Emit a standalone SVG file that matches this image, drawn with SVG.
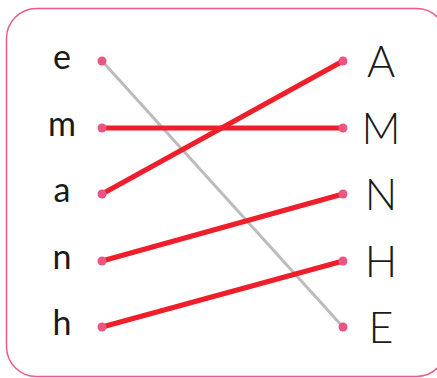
<svg xmlns="http://www.w3.org/2000/svg" width="437" height="378" viewBox="0 0 437 378">
<style>
.lo{font-family:"Lato","Liberation Sans",sans-serif;font-size:34px;font-weight:400;fill:#1a1a1a;text-anchor:middle}
.up{font-family:"Lato","Liberation Sans",sans-serif;font-size:43px;font-weight:300;fill:#1a1a1a;text-anchor:middle}
.dot{fill:#ec5482}
.red{stroke:#ee1f2b;stroke-width:5;stroke-linecap:round}
.gray{stroke:#bcbcbc;stroke-width:3;stroke-linecap:round}
</style>
<rect x="6.5" y="8.5" width="440" height="368" rx="30" fill="#fff" stroke="#ec5a88" stroke-width="1.5"/>
<g id="connectors">
<line class="gray" x1="102" y1="61" x2="343" y2="327"/>
<line class="red" x1="102" y1="128" x2="343" y2="128"/>
<line class="red" x1="102" y1="194" x2="343" y2="61"/>
<line class="red" x1="102" y1="261" x2="343" y2="194"/>
<line class="red" x1="102" y1="327" x2="343" y2="261"/>
</g>
<g id="left-e"><text class="lo" x="62" y="69">e</text><circle class="dot" cx="102" cy="61" r="4.5"/></g>
<g id="left-m"><text class="lo" x="62" y="136">m</text><circle class="dot" cx="102" cy="128" r="4.5"/></g>
<g id="left-a"><text class="lo" x="62" y="202">a</text><circle class="dot" cx="102" cy="194" r="4.5"/></g>
<g id="left-n"><text class="lo" x="62" y="269">n</text><circle class="dot" cx="102" cy="261" r="4.5"/></g>
<g id="left-h"><text class="lo" x="62" y="335">h</text><circle class="dot" cx="102" cy="327" r="4.5"/></g>
<g id="right-A"><text class="up" x="381" y="77">A</text><circle class="dot" cx="343" cy="61" r="4.5"/></g>
<g id="right-M"><text class="up" x="381" y="144">M</text><circle class="dot" cx="343" cy="128" r="4.5"/></g>
<g id="right-N"><text class="up" x="381" y="210">N</text><circle class="dot" cx="343" cy="194" r="4.5"/></g>
<g id="right-H"><text class="up" x="381" y="277">H</text><circle class="dot" cx="343" cy="261" r="4.5"/></g>
<g id="right-E"><text class="up" x="381" y="343">E</text><circle class="dot" cx="343" cy="327" r="4.5"/></g>
</svg>
